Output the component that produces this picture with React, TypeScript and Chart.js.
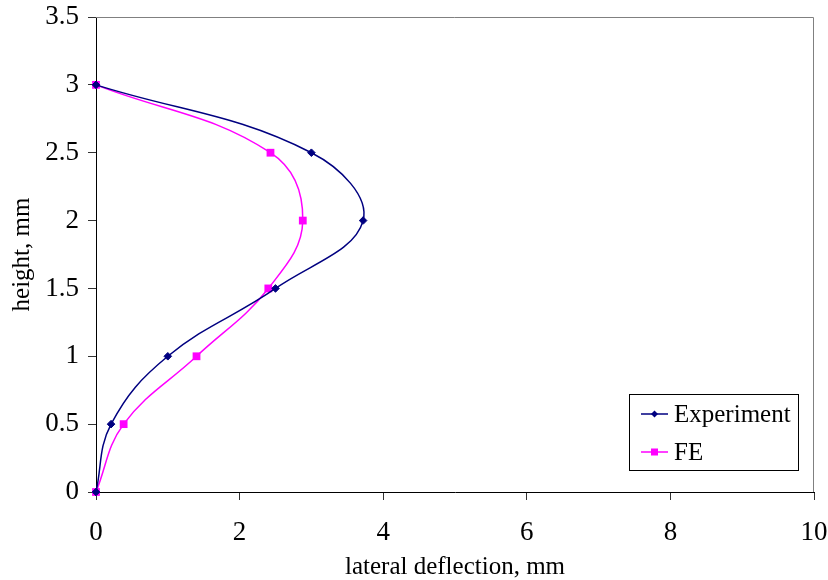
import React, { useEffect, useRef } from "react";
import { Chart, registerables } from "chart.js";

Chart.register(...registerables);

const heights = [0, 0.5, 1, 1.5, 2, 2.5, 3];
const experimentX = [0, 0.21, 1.0, 2.5, 3.72, 3.0, 0];
const feX = [0, 0.385, 1.4, 2.4, 2.88, 2.43, 0];
const seriesNames = ["Experiment", "FE"];
const xTitle = "lateral deflection, mm";
const yTitle = "height, mm";

const FONT = "'Liberation Serif', 'Times New Roman', serif";

const frame = {
  id: "frame",
  beforeDatasetsDraw(chart: any) {
    const { ctx, chartArea } = chart;
    ctx.save();
    ctx.strokeStyle = "#808080";
    ctx.lineWidth = 1;
    ctx.beginPath();
    ctx.moveTo(chartArea.left, chartArea.top + 0.5);
    ctx.lineTo(chartArea.right - 0.5, chartArea.top + 0.5);
    ctx.lineTo(chartArea.right - 0.5, chartArea.bottom);
    ctx.stroke();
    ctx.restore();
  },
};

const boxLegend = {
  id: "boxLegend",
  afterDraw(chart: any) {
    const { ctx } = chart;
    const x0 = 629.5, y0 = 394.5, w = 169, h = 76;
    ctx.save();
    ctx.fillStyle = "#ffffff";
    ctx.fillRect(x0, y0, w, h);
    ctx.strokeStyle = "#000000";
    ctx.lineWidth = 1;
    ctx.strokeRect(x0, y0, w, h);
    ctx.font = "25px " + FONT;
    ctx.textBaseline = "middle";
    ctx.textAlign = "left";
    const rows = [414, 452];
    chart.data.datasets.forEach((ds: any, i: number) => {
      const y = rows[i];
      ctx.strokeStyle = ds.borderColor;
      ctx.lineWidth = 1.5;
      ctx.beginPath();
      ctx.moveTo(641, y);
      ctx.lineTo(668, y);
      ctx.stroke();
      ctx.fillStyle = ds.pointBackgroundColor;
      if (ds.pointStyle === "rectRot") {
        const r = 3.5;
        ctx.beginPath();
        ctx.moveTo(654.5 - r, y);
        ctx.lineTo(654.5, y - r);
        ctx.lineTo(654.5 + r, y);
        ctx.lineTo(654.5, y + r);
        ctx.closePath();
        ctx.fill();
      } else {
        ctx.fillRect(651, y - 3.5, 7, 7);
      }
      ctx.fillStyle = "#000000";
      ctx.fillText(ds.label, 674, y + 1);
    });
    ctx.restore();
  },
};

export default function App() {
  const ref = useRef<HTMLCanvasElement>(null);
  useEffect(() => {
    if (!ref.current) return;
    const chart = new Chart(ref.current, {
      type: "scatter",
      data: {
        datasets: [
          {
            label: seriesNames[0],
            data: heights.map((h, i) => ({ x: experimentX[i], y: h })),
            showLine: true,
            clip: false,
            borderColor: "#000080",
            backgroundColor: "#000080",
            pointBackgroundColor: "#000080",
            pointBorderColor: "#000080",
            pointStyle: "rectRot",
            pointRadius: 3.8,
            pointBorderWidth: 1,
            borderWidth: 1.5,
            tension: 0.4,
          },
          {
            label: seriesNames[1],
            data: heights.map((h, i) => ({ x: feX[i], y: h })),
            showLine: true,
            clip: false,
            borderColor: "#FF00FF",
            backgroundColor: "#FF00FF",
            pointBackgroundColor: "#FF00FF",
            pointBorderColor: "#FF00FF",
            pointStyle: "rect",
            pointRadius: 5.5,
            pointBorderWidth: 0,
            borderWidth: 1.5,
            tension: 0.4,
          },
        ],
      } as any,
      options: {
        animation: false,
        responsive: false,
        devicePixelRatio: 1,
        layout: { padding: { top: 17, right: 14, left: 0, bottom: 0 } },
        plugins: {
          legend: { display: false },
          tooltip: { enabled: false },
        },
        scales: {
          x: {
            type: "linear",
            min: 0,
            max: 10,
            ticks: {
              stepSize: 2,
              color: "#000",
              font: { family: FONT, size: 27 },
              padding: 17,
              maxRotation: 0,
              callback: (v: any) => String(v),
            },
            grid: {
              display: true,
              drawOnChartArea: false,
              drawTicks: true,
              tickLength: 8,
              color: "#333",
            },
            border: { display: true, color: "#000", width: 1 },
            title: {
              display: true,
              text: xTitle,
              color: "#000",
              font: { family: FONT, size: 25 },
              padding: { top: 0, bottom: -2 },
            },
            afterFit: (s: any) => {
              s.height = 88;
              s.paddingLeft = 0;
              s.paddingRight = 0;
            },
          },
          y: {
            type: "linear",
            min: 0,
            max: 3.5,
            ticks: {
              stepSize: 0.5,
              color: "#000",
              font: { family: FONT, size: 27 },
              padding: 9,
              callback: (v: any) => String(v),
            },
            grid: {
              display: true,
              drawOnChartArea: false,
              drawTicks: true,
              tickLength: 8,
              color: "#333",
            },
            border: { display: true, color: "#000", width: 1 },
            title: {
              display: true,
              text: yTitle,
              color: "#000",
              font: { family: FONT, size: 25 },
              padding: 7,
            },
            afterFit: (s: any) => {
              s.width = 96;
              s.paddingTop = 0;
              s.paddingBottom = 0;
            },
          },
        },
      } as any,
      plugins: [frame, boxLegend],
    });
    return () => chart.destroy();
  }, []);
  return (
    <div style={{ position: "fixed", left: 0, top: 0, width: 828, height: 580, background: "#fff" }}>
      <canvas ref={ref} width={828} height={580} style={{ width: 828, height: 580 }} />
    </div>
  );
}
